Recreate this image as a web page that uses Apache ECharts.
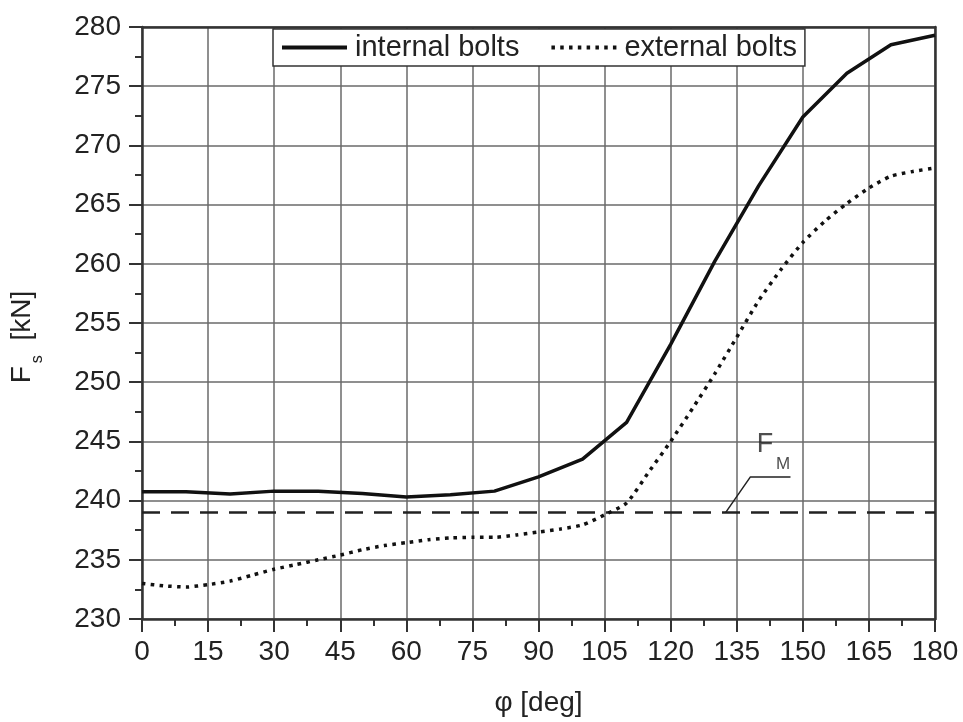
<!DOCTYPE html>
<html>
<head>
<meta charset="utf-8">
<script src="https://cdn.jsdelivr.net/npm/echarts@6/dist/echarts.min.js"></script>
<style>
  html, body { margin: 0; padding: 0; background: #fff; }
  #chart { width: 963px; height: 722px; }
</style>
</head>
<body>
<div id="chart"></div>
<script>
// ---- data ----
var internalAngle = [0, 10, 20, 30, 40, 50, 60, 70, 80, 90, 100, 110, 120, 130, 140, 150, 160, 170, 180];
var internalForce = [240.75, 240.75, 240.55, 240.8, 240.8, 240.6, 240.3, 240.5, 240.8, 242.0, 243.5, 246.6, 253.2, 260.2, 266.6, 272.4, 276.1, 278.5, 279.3];

var externalAngle = [0, 5, 10, 15, 20, 25, 30, 35, 40, 45, 50, 55, 60, 65, 70, 75, 80, 85, 90, 95, 100, 105, 110, 115, 120, 125, 130, 135, 140, 145, 150, 155, 160, 165, 170, 175, 180];
var externalForce = [233.0, 232.8, 232.7, 232.9, 233.2, 233.7, 234.2, 234.6, 235.0, 235.4, 235.85, 236.2, 236.45, 236.7, 236.85, 236.9, 236.9, 237.1, 237.35, 237.6, 237.95, 238.8, 239.8, 242.4, 245.0, 247.8, 250.7, 253.8, 256.9, 259.5, 261.8, 263.6, 265.1, 266.4, 267.4, 267.8, 268.1];

var fmValue = 239;
var fmRange = [0, 180];
var leaderX = [132.5, 138.1, 147.2];
var leaderY = [239, 242.0, 242.0];
var fmLabelX = [141.4, 145.5];
var fmLabelY = [244.7, 243.1];
var fmLabelText = ['F', 'M'];

var seriesNames = ['internal bolts', 'external bolts'];
var xTicks = { min: 0, max: 180, interval: 15 };
var yTicks = { min: 230, max: 280, interval: 5 };

function zip(xs, ys) { return xs.map(function (x, i) { return [x, ys[i]]; }); }

var FONT = '"Liberation Sans", Arial, sans-serif';
var TXT = '#222';

// legend icons: a thick solid bar and a row of dots
var solidIcon = 'path://M0,0h65v4h-65z';
var dotIcon = 'path://' + [0, 8.8, 17.6, 26.4, 35.2, 44, 52.8, 61.5].map(function (x) {
  return 'M' + x + ',0h3.5v4h-3.5z';
}).join(' ');

var chart = echarts.init(document.getElementById('chart'), null, { renderer: 'canvas' });

var option = {
  backgroundColor: '#fff',
  animation: false,
  textStyle: { fontFamily: FONT },
  grid: { left: 141, right: 28, top: 27, bottom: 103, containLabel: false },
  legend: {
    left: 273, top: 29,
    data: [
      { name: seriesNames[0], icon: solidIcon },
      { name: seriesNames[1], icon: dotIcon }
    ],
    itemWidth: 65, itemHeight: 4, itemGap: 32,
    padding: [4, 8, 4, 9],
    borderColor: '#333', borderWidth: 1.5,
    backgroundColor: '#fff',
    itemStyle: { color: '#111', borderWidth: 0 },
    textStyle: { fontSize: 29, color: TXT, fontFamily: FONT, padding: [0, 0, 0, 3] },
    z: 10
  },
  xAxis: [{
    type: 'value', min: xTicks.min, max: xTicks.max, interval: xTicks.interval,
    name: 'φ [deg]', nameLocation: 'middle', nameGap: 70,
    nameTextStyle: { fontSize: 28, color: TXT, fontFamily: FONT },
    axisLine: { show: true, onZero: false, lineStyle: { color: '#333', width: 2.5 } },
    axisTick: { show: true, length: 13, lineStyle: { color: '#333', width: 2 } },
    minorTick: { show: true, splitNumber: 2, length: 7, lineStyle: { color: '#333', width: 2 } },
    axisLabel: { fontSize: 28, color: TXT, margin: 19, fontFamily: FONT },
    splitLine: { show: true, lineStyle: { color: '#6a6a6a', width: 1.5 } }
  }, {
    type: 'value', position: 'top', min: xTicks.min, max: xTicks.max, interval: xTicks.interval,
    axisLine: { show: true, onZero: false, lineStyle: { color: '#333', width: 2.5 } },
    axisTick: { show: false }, axisLabel: { show: false }, splitLine: { show: false }
  }],
  yAxis: [{
    type: 'value', min: yTicks.min, max: yTicks.max, interval: yTicks.interval,
    name: '{f|F}{s|s}{f| [kN]}', nameLocation: 'middle', nameGap: 96,
    nameTextStyle: {
      color: TXT, fontFamily: FONT, padding: [0, 28, 0, 0],
      rich: {
        f: { fontSize: 28, lineHeight: 28, verticalAlign: 'top', color: TXT, fontFamily: FONT },
        s: { fontSize: 16, verticalAlign: 'top', padding: [22, 7, 0, 3], color: TXT, fontFamily: FONT }
      }
    },
    axisLine: { show: true, onZero: false, lineStyle: { color: '#333', width: 2.5 } },
    axisTick: { show: true, length: 13, lineStyle: { color: '#333', width: 2 } },
    minorTick: { show: true, splitNumber: 2, length: 7, lineStyle: { color: '#333', width: 2 } },
    axisLabel: { fontSize: 28, color: TXT, margin: 21, fontFamily: FONT },
    splitLine: { show: true, lineStyle: { color: '#6a6a6a', width: 1.5 } }
  }, {
    type: 'value', position: 'right', min: yTicks.min, max: yTicks.max, interval: yTicks.interval,
    axisLine: { show: true, onZero: false, lineStyle: { color: '#333', width: 2.5 } },
    axisTick: { show: false }, axisLabel: { show: false }, splitLine: { show: false }
  }],
  series: [{
    name: seriesNames[0], type: 'line',
    data: zip(internalAngle, internalForce),
    symbol: 'none', showSymbol: false,
    lineStyle: { color: '#111', width: 3.5 },
    itemStyle: { color: '#111' },
    z: 5
  }, {
    name: seriesNames[1], type: 'line',
    data: zip(externalAngle, externalForce),
    symbol: 'none', showSymbol: false, smooth: 0.2,
    lineStyle: { color: '#111', width: 3.5, type: [3.5, 5.3] },
    itemStyle: { color: '#111' },
    z: 5
  }, {
    name: 'FM', type: 'line',
    data: zip(fmRange, [fmValue, fmValue]),
    symbol: 'none', silent: true,
    lineStyle: { color: '#222', width: 2.5, type: [18, 11] },
    z: 4
  }, {
    name: 'leader', type: 'line',
    data: zip(leaderX, leaderY),
    symbol: 'none', silent: true,
    lineStyle: { color: '#222', width: 1.5 },
    z: 4
  }, {
    name: 'fmLabel', type: 'scatter',
    symbolSize: 0, silent: true,
    data: fmLabelX.map(function (x, i) {
      return {
        value: [x, fmLabelY[i]],
        label: {
          show: true, position: 'inside', formatter: fmLabelText[i],
          fontSize: i === 0 ? 27 : 17, color: TXT, fontFamily: FONT
        }
      };
    }),
    z: 6
  }]
};
chart.setOption(option);
</script>
</body>
</html>
